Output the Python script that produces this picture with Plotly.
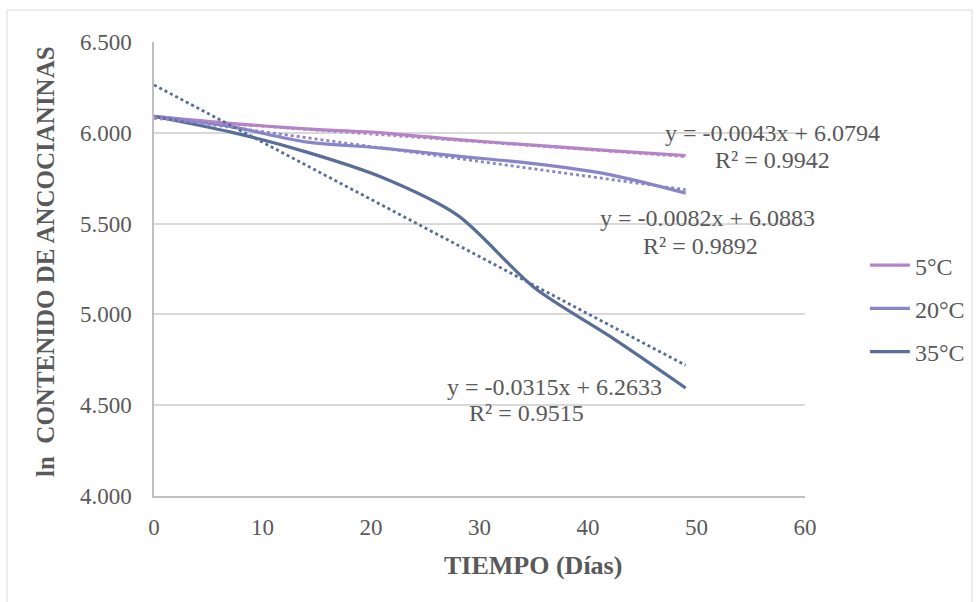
import plotly.graph_objects as go

# Data
dias = [0, 7, 14, 21, 28, 35, 42, 49]
series_names = ["5°C", "20°C", "35°C"]
ln_5c = [6.090, 6.052, 6.022, 6.000, 5.962, 5.932, 5.902, 5.875]
ln_20c = [6.090, 6.035, 5.950, 5.916, 5.872, 5.830, 5.770, 5.668]
ln_35c = [6.090, 6.005, 5.895, 5.755, 5.545, 5.150, 4.880, 4.595]
slopes = [-0.0043, -0.0082, -0.0315]
intercepts = [6.0794, 6.0883, 6.2633]
r2_values = [0.9942, 0.9892, 0.9515]
colors = ["#B584C8", "#8A84CA", "#586E98"]
eq_pos = [(57.0, 6.000), (51.0, 5.531), (36.9, 4.600)]
r2_pos = [(57.0, 5.851), (50.4, 5.377), (34.3, 4.457)]

series = [ln_5c, ln_20c, ln_35c]
FONT = "Liberation Serif"
TXT = "#595959"
FS = 23

fig = go.Figure()
for i, (name, ys, c) in enumerate(zip(series_names, series, colors)):
    fig.add_trace(go.Scatter(x=dias, y=ys, mode="lines", name=name, legendgroup=f"g{i}",
                             line=dict(color=c, width=3.2, shape="spline", smoothing=0.8)))
for name, c, m, b in zip(series_names, colors, slopes, intercepts):
    xs = [dias[0], dias[-1]]
    fig.add_trace(go.Scatter(x=xs, y=[m * x + b for x in xs], mode="lines",
                             showlegend=False, hoverinfo="skip",
                             line=dict(color=c, width=2.8, dash="dot")))

annotations = []
for (ex, ey), (rx, ry), m, b, r2 in zip(eq_pos, r2_pos, slopes, intercepts, r2_values):
    annotations.append(dict(x=ex, y=ey, xref="x", yref="y", showarrow=False,
                            text=f"y = {m:.4f}x + {b:.4f}", xanchor="center", yanchor="middle",
                            font=dict(family=FONT, size=24, color=TXT)))
    annotations.append(dict(x=rx, y=ry, xref="x", yref="y", showarrow=False,
                            text=f"R² = {r2:.4f}", xanchor="center", yanchor="middle",
                            font=dict(family=FONT, size=24, color=TXT)))
# axis titles
annotations.append(dict(x=(533 - 154) / 651, y=(496 - 565) / 454, xref="paper", yref="paper",
                        showarrow=False, text="<b>TIEMPO (Días)</b>",
                        xanchor="center", yanchor="middle",
                        font=dict(family=FONT, size=26, color=TXT)))
annotations.append(dict(x=(45 - 154) / 651, y=(496 - 262) / 454, xref="paper", yref="paper",
                        showarrow=False, text="<b>ln  CONTENIDO DE ANCOCIANINAS</b>",
                        textangle=-90, xanchor="center", yanchor="middle",
                        font=dict(family=FONT, size=25, color=TXT)))

fig.update_layout(
    width=976, height=602,
    margin=dict(l=154, r=171, t=42, b=106, autoexpand=False),
    paper_bgcolor="white", plot_bgcolor="white",
    font=dict(family=FONT, size=FS, color=TXT),
    annotations=annotations,
    legend=dict(x=1.092, y=0.557, xanchor="left", yanchor="top",
                font=dict(family=FONT, size=24, color=TXT),
                bgcolor="rgba(0,0,0,0)", tracegroupgap=9, itemwidth=40),
    shapes=[dict(type="rect", xref="paper", yref="paper",
                 x0=(7 - 154) / 651, x1=(972 - 154) / 651,
                 y0=(496 - 640) / 454, y1=(496 - 10) / 454,
                 line=dict(color="#D9D9D9", width=1), fillcolor="rgba(0,0,0,0)", layer="below")],
    xaxis=dict(range=[0, 60], tickvals=[0, 10, 20, 30, 40, 50, 60], showgrid=False,
               zeroline=False, showline=True, linecolor="#BFBFBF", linewidth=1.5,
               ticks="", ticklabelstandoff=10, tickfont=dict(family=FONT, size=FS, color=TXT)),
    yaxis=dict(range=[4.0, 6.5], tickvals=[4.0, 4.5, 5.0, 5.5, 6.0, 6.5], tickformat=".3f",
               showgrid=True, gridcolor="#D9D9D9", gridwidth=1.5,
               zeroline=False, showline=True, linecolor="#BFBFBF", linewidth=1.5,
               ticks="", ticklabelstandoff=16, tickfont=dict(family=FONT, size=FS, color=TXT)),
)

fig.write_html("out.html")
